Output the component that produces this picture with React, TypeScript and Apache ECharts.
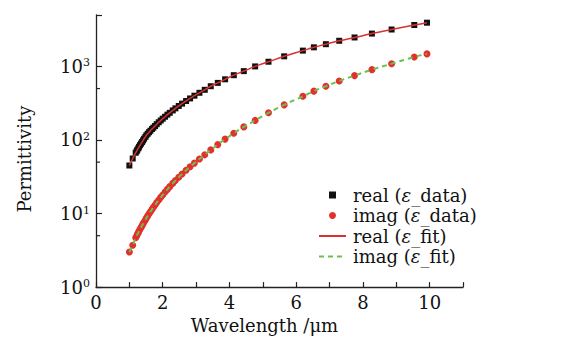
import React, { useEffect, useRef } from "react";
import * as echarts from "echarts";

const wavelength = [
  1.0, 1.1, 1.19, 1.22, 1.24, 1.27, 1.29, 1.32, 1.35, 1.38, 1.41, 1.44, 1.48,
  1.51, 1.55, 1.59, 1.63, 1.68, 1.72, 1.77, 1.82, 1.88, 1.94, 2.0, 2.07, 2.14,
  2.21, 2.3, 2.38, 2.48, 2.58, 2.7, 2.82, 2.95, 3.1, 3.26, 3.44, 3.65, 3.87,
  4.13, 4.43, 4.77, 5.17, 5.64, 6.2, 6.53, 6.89, 7.29, 7.75, 8.27, 8.86, 9.54,
  9.92,
];

const realData = [
  45, 56, 67, 70.5, 73.8, 77.3, 80.8, 85, 89.3, 93.7, 98.7, 104, 110, 116,
  121.5, 127.5, 133.5, 141, 147, 155, 164, 174, 184, 195, 207, 221, 234, 252,
  269, 290, 312, 339, 367, 400, 438, 481, 538, 597, 668, 760, 863, 1000, 1158,
  1372, 1640, 1818, 2005, 2232, 2475, 2795, 3175, 3655, 3930,
];

const imagData = [
  3.0, 3.7, 4.7, 4.96, 5.22, 5.5, 5.78, 6.12, 6.47, 6.84, 7.24, 7.69, 8.18,
  8.72, 9.29, 9.93, 10.6, 11.4, 12.2, 13.1, 14.1, 15.3, 16.6, 17.9, 19.6, 21.3,
  23.2, 25.7, 28.1, 31.2, 34.5, 38.7, 43.2, 48.5, 55.1, 62.8, 73.3, 86.5, 102.8,
  123.6, 150.7, 184.5, 234, 300, 392, 461, 538, 634, 750, 904, 1090, 1343, 1480,
];

// fitted curves (drawn through the same wavelengths)
const realFit = realData;
const imagFit = imagData;

const xTickLabels = ["0", "2", "4", "6", "8", "10"];
const yMinorTicks = [5, 50, 500];
const seriesNames = [
  "real (ε_data)",
  "imag (ε_data)",
  "real (ε_fit)",
  "imag (ε_fit)",
];

const FONT = "DejaVu Serif";
const FS = 18;

export default function App() {
  const ref = useRef<HTMLDivElement>(null);
  useEffect(() => {
    if (!ref.current) return;
    const chart = echarts.init(ref.current, undefined, { renderer: "svg" });
    const pair = (ys: number[]) => wavelength.map((x, i) => [x, ys[i]]);
    chart.setOption({
      animation: false,
      backgroundColor: "#ffffff",
      textStyle: { fontFamily: FONT, color: "#111" },
      grid: { left: 96, right: 98, top: 15, bottom: 48 },
      legend: {
        data: [
          { name: seriesNames[0], icon: "path://M0,0L10,0L10,10L0,10Z" },
          { name: seriesNames[1], icon: "circle" },
          { name: seriesNames[2], itemStyle: { opacity: 0 } },
          { name: seriesNames[3], itemStyle: { opacity: 0 } },
        ],
        orient: "vertical",
        left: 313,
        top: 181,
        itemWidth: 27,
        itemHeight: 7,
        itemGap: 2.5,
        symbolKeepAspect: true,
        textStyle: {
          fontFamily: FONT,
          fontSize: FS,
          color: "#111",
          lineHeight: 18,
          padding: [0, 0, 0, 2],
          rich: {
            i: { fontFamily: FONT, fontSize: FS, fontStyle: "italic", color: "#111" },
          },
        },
        formatter: (name: string) => name.replace("ε", "{i|ε}"),
      },
      xAxis: {
        type: "value",
        min: 0,
        max: 11,
        interval: 1,
        name: "Wavelength /μm",
        nameLocation: "middle",
        nameGap: 27,
        nameTextStyle: {
          fontFamily: FONT,
          fontSize: FS,
          color: "#111",
          padding: [0, 30, 0, 0],
        },
        axisLine: { lineStyle: { color: "#222", width: 1.3 } },
        axisTick: { inside: true, length: 5, lineStyle: { color: "#222", width: 1.2 } },
        axisLabel: {
          margin: 6,
          fontFamily: FONT,
          fontSize: FS,
          color: "#111",
          formatter: (v: number) =>
            xTickLabels.includes(String(v)) ? String(v) : "",
        },
        splitLine: { show: false },
      },
      yAxis: {
        type: "log",
        logBase: 10,
        min: 1,
        max: 5000,
        name: "Permittivity",
        nameLocation: "middle",
        nameGap: 63,
        nameTextStyle: {
          fontFamily: FONT,
          fontSize: FS,
          color: "#111",
          padding: [0, 16, 0, 0],
        },
        axisLine: { show: true, lineStyle: { color: "#222", width: 1.3 } },
        axisTick: { inside: true, length: 6, lineStyle: { color: "#222", width: 1.2 } },
        axisLabel: {
          margin: 6,
          fontFamily: FONT,
          color: "#111",
          formatter: (v: number) => {
            const e = Math.log10(v);
            if (Math.abs(e - Math.round(e)) > 1e-6) return "";
            return `{b|10}{s|${Math.round(e)}}`;
          },
          rich: {
            b: { fontFamily: FONT, fontSize: FS, color: "#111" },
            s: { fontFamily: FONT, fontSize: 11, color: "#111", verticalAlign: "top" },
          },
        },
        splitLine: { show: false },
      },
      series: [
        {
          name: seriesNames[0],
          type: "scatter",
          symbol: "rect",
          symbolSize: 6,
          itemStyle: { color: "#111", opacity: 1 },
          data: pair(realData),
          z: 2,
        },
        {
          name: seriesNames[1],
          type: "scatter",
          symbol: "circle",
          symbolSize: 7,
          itemStyle: { color: "#e2302c", opacity: 1 },
          data: pair(imagData),
          z: 2,
        },
        {
          name: seriesNames[2],
          type: "line",
          symbol: "none",
          smooth: true,
          lineStyle: { color: "#d9312d", width: 1.5 },
          itemStyle: { color: "#d9312d" },
          data: pair(realFit),
          z: 3,
        },
        {
          name: seriesNames[3],
          type: "line",
          symbol: "none",
          smooth: true,
          lineStyle: { color: "#6cbf4c", width: 2, type: [5, 4] },
          itemStyle: { color: "#6cbf4c" },
          data: pair(imagFit),
          z: 3,
        },
        {
          type: "custom",
          silent: true,
          coordinateSystem: "cartesian2d",
          clip: false,
          data: yMinorTicks.map((v) => [0, v]),
          encode: { x: 0, y: 1 },
          renderItem: (params: any, api: any) => {
            const p = api.coord([api.value(0), api.value(1)]);
            return {
              type: "line",
              shape: { x1: p[0], y1: p[1], x2: p[0] + 4, y2: p[1] },
              style: { stroke: "#222", lineWidth: 1.2 },
            };
          },
          z: 5,
        },
      ],
    });
    return () => chart.dispose();
  }, []);
  return (
    <div
      ref={ref}
      style={{ position: "fixed", left: 0, top: 0, width: 561, height: 339 }}
    />
  );
}
